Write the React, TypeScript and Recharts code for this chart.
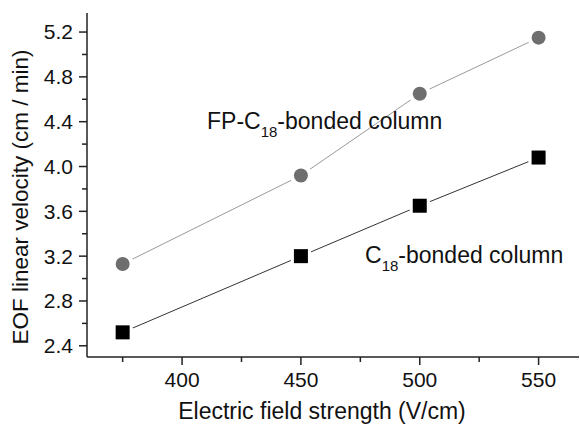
import { LineChart, Line, XAxis, YAxis } from 'recharts'

// electric field strength (V/cm)
const fieldStrength = [375, 450, 500, 550]
// EOF linear velocity (cm / min)
const fpC18Velocity = [3.13, 3.92, 4.65, 5.15]
const c18Velocity = [2.52, 3.2, 3.65, 4.08]

const xTicks = [375, 400, 425, 450, 475, 500, 525, 550]
const xLabelTicks = [400, 450, 500, 550]
const yTicks = [2.4, 2.6, 2.8, 3.0, 3.2, 3.4, 3.6, 3.8, 4.0, 4.2, 4.4, 4.6, 4.8, 5.0, 5.2]
const yLabelTicks = [2.4, 2.8, 3.2, 3.6, 4.0, 4.4, 4.8, 5.2]

const data = fieldStrength.map((x, i) => ({
  x,
  fp: fpC18Velocity[i],
  c18: c18Velocity[i],
}))

const FONT = '"Liberation Sans", Arial, sans-serif'
const AXIS = '#222'
const TEXT = '#111'

const isMajor = (list: number[], v: number) => list.some((t) => Math.abs(t - v) < 1e-6)

function XTick({ x, y, payload }: any) {
  const major = isMajor(xLabelTicks, payload.value)
  return (
    <g>
      <line x1={x} x2={x} y1={y} y2={y + (major ? 8 : 5)} stroke={AXIS} strokeWidth={1.5} />
      {major && (
        <text x={x} y={y + 30} textAnchor="middle" fontSize={21} fontFamily={FONT} fill={TEXT}>
          {payload.value}
        </text>
      )}
    </g>
  )
}

function YTick({ x, y, payload }: any) {
  const major = isMajor(yLabelTicks, payload.value)
  return (
    <g>
      <line x1={x - (major ? 8 : 5)} x2={x} y1={y} y2={y} stroke={AXIS} strokeWidth={1.5} />
      {major && (
        <text x={x - 14} y={y} dy="0.35em" textAnchor="end" fontSize={21} fontFamily={FONT} fill={TEXT}>
          {payload.value.toFixed(1)}
        </text>
      )}
    </g>
  )
}

// white halo leaves the small gap between line and marker
function CircleDot({ cx, cy, index }: any) {
  return (
    <g key={`c-${index}`}>
      <circle cx={cx} cy={cy} r={11} fill="#fff" />
      <circle cx={cx} cy={cy} r={7} fill="#6e6e6e" />
    </g>
  )
}

function SquareDot({ cx, cy, index }: any) {
  return (
    <g key={`s-${index}`}>
      <circle cx={cx} cy={cy} r={11} fill="#fff" />
      <rect x={cx - 7} y={cy - 7} width={14} height={14} fill="#000" />
    </g>
  )
}

export default function App() {
  return (
    <div style={{ position: 'absolute', left: 0, top: 0, width: 580, height: 425, background: '#fff' }}>
      <LineChart width={580} height={425} data={data} margin={{ top: 13, right: 1, bottom: 0, left: 0 }}>
        <XAxis
          dataKey="x"
          type="number"
          domain={[360, 567]}
          ticks={xTicks}
          interval={0}
          allowDataOverflow
          height={68}
          tickSize={0}
          tickMargin={0}
          tickLine={false}
          axisLine={{ stroke: AXIS, strokeWidth: 1.5 }}
          tick={<XTick />}
        />
        <YAxis
          type="number"
          domain={[2.3, 5.37]}
          ticks={yTicks}
          interval={0}
          allowDataOverflow
          width={87}
          tickSize={0}
          tickMargin={0}
          tickLine={false}
          axisLine={{ stroke: AXIS, strokeWidth: 1.5 }}
          tick={<YTick />}
        />
        <Line
          dataKey="fp"
          stroke="#9a9a9a"
          strokeWidth={1}
          dot={CircleDot}
          activeDot={false}
          isAnimationActive={false}
        />
        <Line
          dataKey="c18"
          stroke="#333"
          strokeWidth={1}
          dot={SquareDot}
          activeDot={false}
          isAnimationActive={false}
        />
      </LineChart>
      <svg
        width={580}
        height={425}
        style={{ position: 'absolute', left: 0, top: 0, pointerEvents: 'none' }}
        fontFamily={FONT}
        fill={TEXT}
      >
        <text x={207} y={129} fontSize={23}>
          FP-C
          <tspan fontSize={15} dy={8}>18</tspan>
          <tspan dy={-8}>-bonded column</tspan>
        </text>
        <text x={365} y={263} fontSize={23}>
          C
          <tspan fontSize={15} dy={8}>18</tspan>
          <tspan dy={-8}>-bonded column</tspan>
        </text>
        <text x={322} y={419} fontSize={23} textAnchor="middle">
          Electric field strength (V/cm)
        </text>
        <text transform="rotate(-90)" x={-197} y={28} fontSize={22.5} textAnchor="middle">
          EOF linear velocity (cm / min)
        </text>
      </svg>
    </div>
  )
}
